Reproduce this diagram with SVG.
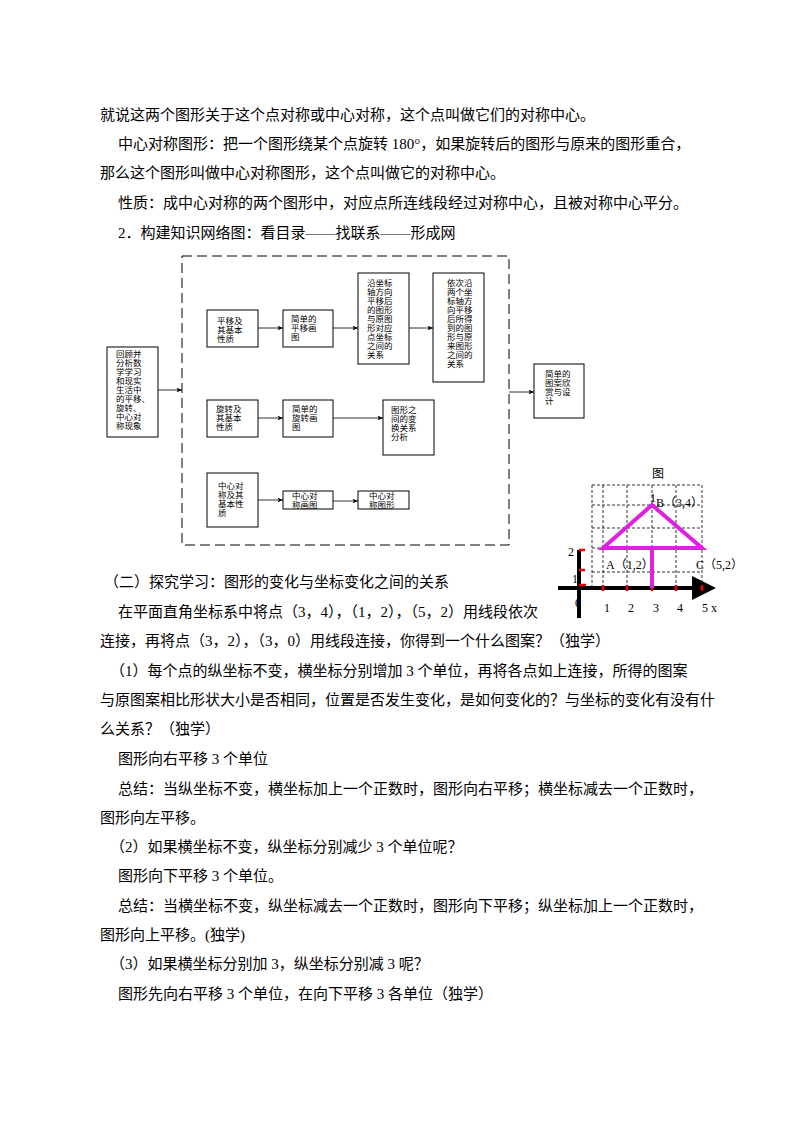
<svg xmlns="http://www.w3.org/2000/svg" width="794" height="1123" viewBox="0 0 794 1123">
<style>
.t{font-family:"Liberation Serif","Noto Sans CJK SC",serif;font-size:15px;fill:#000}
.b{font-family:"Noto Sans CJK SC",sans-serif;font-size:8.5px;fill:#000}
.bx{fill:#fff;stroke:#000;stroke-width:1}
.c{stroke:#000;stroke-width:0.8;fill:none;marker-end:url(#a)}
.g{stroke:#000;stroke-width:0.8;stroke-dasharray:3,2;fill:none}
.s{font-family:"Liberation Serif","Noto Sans CJK SC",serif;font-size:12px;fill:#000}
</style>
<defs><marker id="a" markerWidth="8" markerHeight="6" refX="7" refY="3" orient="auto"><path d="M0,0 L7,3 L0,6 L2,3z" fill="#000"/></marker>
<marker id="ax" markerWidth="6" markerHeight="6" refX="5" refY="3" orient="auto"><path d="M0,0 L6,3 L0,6z" fill="#000"/></marker></defs>
<rect width="794" height="1123" fill="#fff"/>
<g id="text">
<text class="t" x="100" y="120">就说这两个图形关于这个点对称或中心对称，这个点叫做它们的对称中心。</text>
<text class="t" x="118" y="149">中心对称图形：把一个图形绕某个点旋转 180°，如果旋转后的图形与原来的图形重合，</text>
<text class="t" x="100" y="178">那么这个图形叫做中心对称图形，这个点叫做它的对称中心。</text>
<text class="t" x="118" y="208">性质：成中心对称的两个图形中，对应点所连线段经过对称中心，且被对称中心平分。</text>
<text class="t" x="118" y="238">2．构建知识网络图：看目录——找联系——形成网</text>
<text class="t" x="104" y="587">（二）探究学习：图形的变化与坐标变化之间的关系</text>
<text class="t" x="118" y="617">在平面直角坐标系中将点（3，4），（1，2），（5，2）用线段依次</text>
<text class="t" x="100" y="646">连接，再将点（3，2），（3，0）用线段连接，你得到一个什么图案？（独学）</text>
<text class="t" x="110" y="676">（1）每个点的纵坐标不变，横坐标分别增加 3 个单位，再将各点如上连接，所得的图案</text>
<text class="t" x="100" y="705">与原图案相比形状大小是否相同，位置是否发生变化，是如何变化的？与坐标的变化有没有什</text>
<text class="t" x="100" y="734">么关系？（独学）</text>
<text class="t" x="118" y="764">图形向右平移 3 个单位</text>
<text class="t" x="118" y="794">总结：当纵坐标不变，横坐标加上一个正数时，图形向右平移；横坐标减去一个正数时，</text>
<text class="t" x="100" y="823">图形向左平移。</text>
<text class="t" x="110" y="852">（2）如果横坐标不变，纵坐标分别减少 3 个单位呢？</text>
<text class="t" x="118" y="881">图形向下平移 3 个单位。</text>
<text class="t" x="118" y="911">总结：当横坐标不变，纵坐标减去一个正数时，图形向下平移；纵坐标加上一个正数时，</text>
<text class="t" x="100" y="940">图形向上平移。(独学)</text>
<text class="t" x="110" y="969">（3）如果横坐标分别加 3，纵坐标分别减 3 呢？</text>
<text class="t" x="118" y="999">图形先向右平移 3 个单位，在向下平移 3 各单位（独学）</text>
</g>
<rect x="182" y="256" width="327" height="289" fill="none" stroke="#000" stroke-width="1" stroke-dasharray="10,5"/>
<g id="connectors">
<path class="c" d="M158,390 H182"/>
<path class="c" d="M509,392 H534"/>
<path class="c" d="M258,328 H283"/>
<path class="c" d="M333,328 H358"/>
<path class="c" d="M409,328 H433"/>
<path class="c" d="M258,418 H283"/>
<path class="c" d="M333,418 H383"/>
<path class="c" d="M258,500 H283"/>
<path class="c" d="M333,501 H358"/>
</g>
<g id="n1"><rect class="bx" x="107" y="347" width="51" height="90"/><text class="b"><tspan x="116" y="357">回顾并</tspan><tspan x="116" y="366">分析数</tspan><tspan x="116" y="375">学学习</tspan><tspan x="116" y="384">和现实</tspan><tspan x="116" y="393">生活中</tspan><tspan x="116" y="402">的平移、</tspan><tspan x="116" y="411">旋转、</tspan><tspan x="116" y="420">中心对</tspan><tspan x="116" y="429">称现象</tspan></text></g>
<g id="n2"><rect class="bx" x="207" y="310" width="51" height="37"/><text class="b"><tspan x="217" y="324">平移及</tspan><tspan x="217" y="333">其基本</tspan><tspan x="217" y="342">性质</tspan></text></g>
<g id="n3"><rect class="bx" x="283" y="310" width="50" height="37"/><text class="b"><tspan x="291" y="322">简单的</tspan><tspan x="291" y="331">平移画</tspan><tspan x="291" y="340">图</tspan></text></g>
<g id="n4"><rect class="bx" x="358" y="273" width="51" height="91"/><text class="b"><tspan x="367" y="286">沿坐标</tspan><tspan x="367" y="295">轴方向</tspan><tspan x="367" y="304">平移后</tspan><tspan x="367" y="313">的图形</tspan><tspan x="367" y="322">与原图</tspan><tspan x="367" y="331">形对应</tspan><tspan x="367" y="340">点坐标</tspan><tspan x="367" y="349">之间的</tspan><tspan x="367" y="358">关系</tspan></text></g>
<g id="n5"><rect class="bx" x="433" y="273" width="51" height="109"/><text class="b"><tspan x="447" y="286">依次沿</tspan><tspan x="447" y="295">两个坐</tspan><tspan x="447" y="304">标轴方</tspan><tspan x="447" y="313">向平移</tspan><tspan x="447" y="322">后所得</tspan><tspan x="447" y="331">到的图</tspan><tspan x="447" y="340">形与原</tspan><tspan x="447" y="349">来图形</tspan><tspan x="447" y="358">之间的</tspan><tspan x="447" y="367">关系</tspan></text></g>
<g id="n6"><rect class="bx" x="534" y="364" width="50" height="54"/><text class="b"><tspan x="545" y="377">简单的</tspan><tspan x="545" y="386">图案欣</tspan><tspan x="545" y="395">赏与设</tspan><tspan x="545" y="404">计</tspan></text></g>
<g id="n7"><rect class="bx" x="207" y="400" width="51" height="37"/><text class="b"><tspan x="216" y="412">旋转及</tspan><tspan x="216" y="421">其基本</tspan><tspan x="216" y="430">性质</tspan></text></g>
<g id="n8"><rect class="bx" x="283" y="400" width="50" height="37"/><text class="b"><tspan x="292" y="412">简单的</tspan><tspan x="292" y="421">旋转画</tspan><tspan x="292" y="430">图</tspan></text></g>
<g id="n9"><rect class="bx" x="383" y="400" width="51" height="55"/><text class="b"><tspan x="391" y="413">图形之</tspan><tspan x="391" y="422">间的变</tspan><tspan x="391" y="431">换关系</tspan><tspan x="391" y="440">分析</tspan></text></g>
<g id="n10"><rect class="bx" x="207" y="473" width="51" height="54"/><text class="b"><tspan x="218" y="489">中心对</tspan><tspan x="218" y="498">称及其</tspan><tspan x="218" y="507">基本性</tspan><tspan x="218" y="516">质</tspan></text></g>
<g id="n11"><rect class="bx" x="283" y="491" width="50" height="18"/><text class="b"><tspan x="292" y="499">中心对</tspan><tspan x="292" y="508">称画图</tspan></text></g>
<g id="n12"><rect class="bx" x="358" y="491" width="51" height="18"/><text class="b"><tspan x="369" y="499">中心对</tspan><tspan x="369" y="508">称图形</tspan></text></g>
<g id="graph">
<path class="g" d="M592,485 H702 M592,505 H702 M592,528 H702 M592,548 H702 M592,572 H702 M592,485 V588 M603,485 V588 M627,485 V588 M652,485 V588 M676,485 V588 M702,485 V588"/>
<text class="s" x="652" y="478">图</text>
<line x1="579" y1="550" x2="579" y2="618" stroke="#000" stroke-width="4"/>
<line x1="558" y1="588" x2="712" y2="588" stroke="#000" stroke-width="4" marker-end="url(#ax)"/>
<path d="M579,550 H585 M579,570 H585 M579,585 H586 M603,585 V591 M627,585 V591 M652,585 V591 M676,585 V591 M702,585 V591" stroke="#e00" stroke-width="2.5"/>
<path d="M603,548 L652,505 L702,548 Z M652,548 V588" fill="none" stroke="#e020e0" stroke-width="4" stroke-linejoin="miter"/>
<text class="s" x="650" y="502">1</text>
<text class="s" x="656" y="507">B（3,4）</text>
<text class="s" x="606" y="569">A（1,2）</text>
<text class="s" x="696" y="569">C（5,2）</text>
<text class="s" x="568" y="556">2</text>
<text class="s" x="572" y="583">1</text>
<text class="s" x="575" y="607">0</text>
<text class="s" x="604" y="612">1</text>
<text class="s" x="628" y="612">2</text>
<text class="s" x="653" y="612">3</text>
<text class="s" x="677" y="612">4</text>
<text class="s" x="702" y="612">5 x</text>
</g>
</svg>
